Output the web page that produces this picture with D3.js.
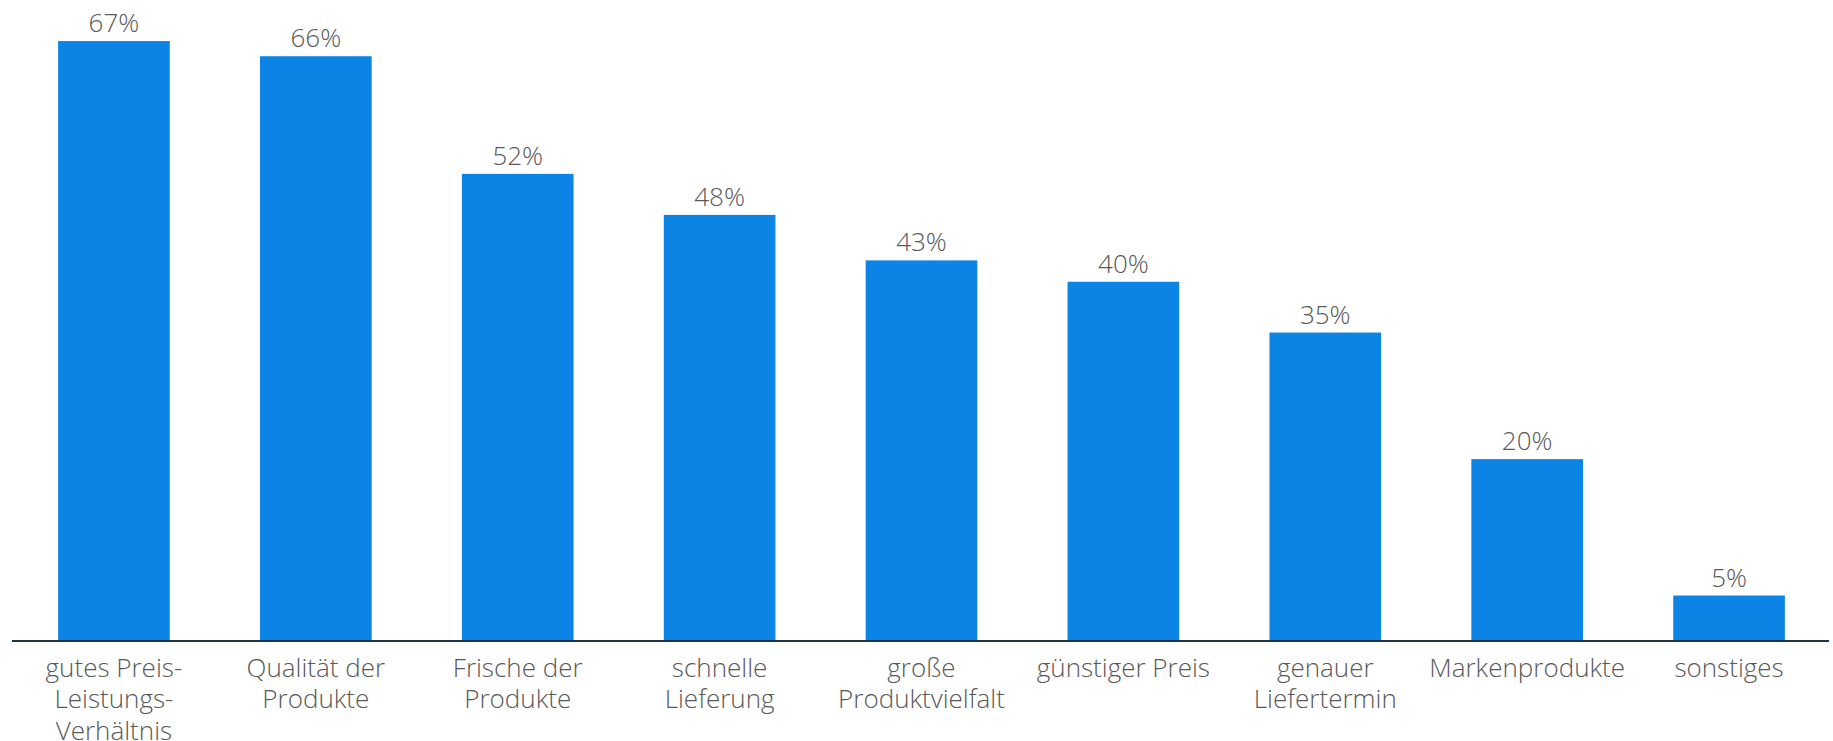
<!DOCTYPE html>
<html lang="de">
<head>
    <meta charset="UTF-8">
    <title>Gründe für Online-Lebensmitteleinkauf</title>
    <style>
        html, body {
            margin: 0;
            padding: 0;
            background-color: #ffffff;
        }
        svg {
            display: block;
            font-family: "Open Sans", sans-serif;
        }
        .value-label {
            font-size: 26px;
            font-weight: 300;
            fill: #595959;
        }
        .tick-label {
            font-size: 26px;
            font-weight: 300;
            fill: #595959;
        }
    </style>
    <script src="https://d3js.org/d3.v7.min.js"></script>
</head>
<body>
    <svg id="chart" width="1833" height="741"></svg>

    <script>
        // categories and their values (percent;
        // the labels show them rounded)
        const categories = [
            "gutes Preis-Leistungs-Verhältnis",
            "Qualität der Produkte",
            "Frische der Produkte",
            "schnelle Lieferung",
            "große Produktvielfalt",
            "günstiger Preis",
            "genauer Liefertermin",
            "Markenprodukte",
            "sonstiges"
        ];
        const values = [67.3, 65.6, 52.4, 47.8, 42.7, 40.3, 34.6, 20.4, 5.1];

        // tick labels as they are wrapped under the axis
        const tickLabels = [
            ["gutes Preis-", "Leistungs-", "Verhältnis"],
            ["Qualität der", "Produkte"],
            ["Frische der", "Produkte"],
            ["schnelle", "Lieferung"],
            ["große", "Produktvielfalt"],
            ["günstiger Preis"],
            ["genauer", "Liefertermin"],
            ["Markenprodukte"],
            ["sonstiges"]
        ];

        const svg = d3.select("#chart"),
              width = +svg.attr("width"),
              height = +svg.attr("height");

        const margin = { top: 17, right: 3, bottom: 100, left: 13 };
        const baseline = height - margin.bottom;

        const x = d3.scaleBand()
                    .domain(categories)
                    .range([margin.left, width - margin.right])
                    .paddingInner(0.447)
                    .paddingOuter(0.2235);

        const y = d3.scaleLinear()
                    .domain([0, 70])
                    .range([baseline, margin.top]);

        const fmt = d => Math.round(d) + "%";

        const data = categories.map((c, i) => ({ name: c, value: values[i], lines: tickLabels[i] }));

        // bars
        svg.append("g")
           .selectAll("rect")
           .data(data)
           .enter().append("rect")
           .attr("x", d => x(d.name))
           .attr("y", d => y(d.value))
           .attr("width", x.bandwidth())
           .attr("height", d => baseline - y(d.value))
           .attr("fill", "#0b84e5");

        // value labels above bars
        svg.append("g")
           .selectAll("text")
           .data(data)
           .enter().append("text")
           .attr("class", "value-label")
           .attr("x", d => x(d.name) + x.bandwidth() / 2)
           .attr("y", d => y(d.value) - 9)
           .attr("text-anchor", "middle")
           .text(d => fmt(d.value));

        // x axis
        const xAxis = svg.append("g")
                         .attr("transform", `translate(0,${baseline})`)
                         .call(d3.axisBottom(x).tickSize(0).tickFormat(""));

        xAxis.select(".domain")
             .attr("stroke", "#1f3349")
             .attr("stroke-width", 2)
             .attr("d", `M${margin.left - 1},0H${width - 4}`);

        xAxis.selectAll(".tick text").remove();

        // wrapped tick labels
        const ticks = svg.append("g")
                         .selectAll("text")
                         .data(data)
                         .enter().append("text")
                         .attr("class", "tick-label")
                         .attr("text-anchor", "middle")
                         .attr("x", d => x(d.name) + x.bandwidth() / 2)
                         .attr("y", baseline + 36);

        ticks.selectAll("tspan")
             .data(d => d.lines.map(l => ({ line: l, cx: x(d.name) + x.bandwidth() / 2 })))
             .enter().append("tspan")
             .attr("x", d => d.cx)
             .attr("dy", (d, i) => i === 0 ? 0 : 31.3)
             .text(d => d.line);
    </script>
</body>
</html>
